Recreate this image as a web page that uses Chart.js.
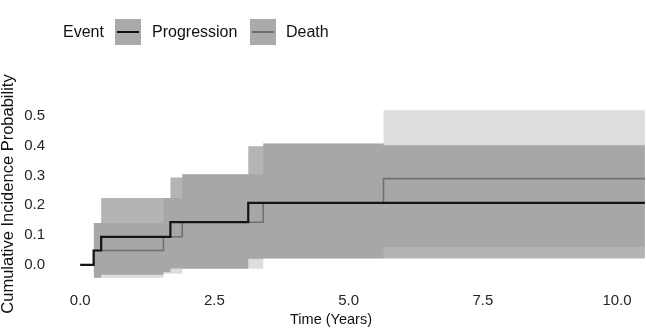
<!DOCTYPE html>
<html>
<head>
<meta charset="utf-8">
<script src="https://cdn.jsdelivr.net/npm/chart.js@4"></script>
<style>
  html, body { margin: 0; padding: 0; background: #fff; overflow: hidden; }
  #wrap { position: relative; width: 646px; height: 332px; font-family: "Liberation Sans", Arial, sans-serif; color: #111; }
  #legend span, #legend div { position: absolute; }
  .lbl { font-size: 16px; top: 23px; line-height: 18px; }
  .key { top: 19px; width: 26px; height: 26px; background: #aaaaaa; }
  .key i { position: absolute; left: 2px; right: 2px; top: 12px; display: block; }
</style>
</head>
<body>
<div id="wrap">
  <canvas id="kmChart"></canvas>
  <div id="legend">
    <span class="lbl" style="left:63px">Event</span>
    <div class="key" style="left:115px"><i style="height:2px;background:#111"></i></div>
    <span class="lbl" style="left:152px">Progression</span>
    <div class="key" style="left:250px"><i style="height:2px;background:#6f6f6f"></i></div>
    <span class="lbl" style="left:286px">Death</span>
  </div>
</div>
<script>
// tick labels
const xTicks = [0, 2.5, 5, 7.5, 10];
const yTicks = [0, 0.1, 0.2, 0.3, 0.4, 0.5];

// cumulative incidence estimates (step functions)
const progTime = [0, 0.25, 0.39, 1.68, 3.13, 10.52];
const progEst = [0, 0.048, 0.094, 0.143, 0.208, 0.208];
const deathTime = [0, 0.25, 1.55, 1.90, 3.41, 5.65, 10.52];
const deathEst = [0, 0.048, 0.094, 0.143, 0.208, 0.289, 0.289];

// confidence bands
const progBandTime = [0.25, 0.39, 1.55, 1.68, 1.90, 3.13, 3.41, 5.65, 10.52];
const progUpper = [0.140, 0.224, 0.224, 0.293, 0.304, 0.398, 0.407, 0.401, 0.401];
const progLower = [-0.043, -0.033, -0.025, -0.012, -0.013, 0.020, 0.021, 0.021, 0.021];
const deathBandTime = [0.25, 1.55, 1.90, 3.41, 5.65, 10.52];
const deathUpper = [0.140, 0.224, 0.304, 0.407, 0.518, 0.518];
const deathLower = [-0.043, -0.030, -0.013, 0.021, 0.060, 0.060];

const FONT = '"Liberation Sans", Arial, sans-serif';

function pts(xs, ys) {
    return xs.map((x, i) => ({ x: x, y: ys[i] }));
}

function band(data, color, fill) {
    return {
        data: data,
        stepped: true,
        borderWidth: 0,
        pointRadius: 0,
        backgroundColor: color,
        fill: fill
    };
}

// x axis title sits left of the panel centre in the reference
const xTitlePlugin = {
    id: 'xTitle',
    afterDraw(chart) {
        const ctx = chart.ctx;
        ctx.save();
        ctx.font = '14.5px ' + FONT;
        ctx.fillStyle = '#111';
        ctx.textAlign = 'center';
        ctx.textBaseline = 'middle';
        ctx.fillText('Time (Years)', 331, 320);
        ctx.restore();
    }
};

const ctx = document.getElementById('kmChart').getContext('2d');
document.getElementById('kmChart').parentNode.style.height = '332px';

new Chart(ctx, {
    type: 'line',
    data: {
        datasets: [
            {
                label: 'Progression',
                data: pts(progTime, progEst),
                stepped: true,
                borderColor: '#141414',
                borderWidth: 2.2,
                pointRadius: 0,
                fill: false
            },
            {
                label: 'Death',
                data: pts(deathTime, deathEst),
                stepped: true,
                borderColor: '#707070',
                borderWidth: 1.6,
                pointRadius: 0,
                fill: false
            },
            band(pts(progBandTime, progUpper), 'rgba(130,130,130,0.6)', '+1'),
            band(pts(progBandTime, progLower), 'transparent', false),
            band(pts(deathBandTime, deathUpper), 'rgba(130,130,130,0.27)', '+1'),
            band(pts(deathBandTime, deathLower), 'transparent', false)
        ]
    },
    options: {
        responsive: true,
        maintainAspectRatio: false,
        animation: false,
        layout: { padding: { top: 102, left: 0, right: 0, bottom: 0 } },
        plugins: {
            legend: { display: false },
            tooltip: { enabled: false }
        },
        scales: {
            x: {
                type: 'linear',
                min: -0.526,
                max: 10.54,
                afterFit: s => { s.height = 46; },
                afterBuildTicks: s => { s.ticks = xTicks.map(v => ({ value: v })); },
                grid: { display: false, drawTicks: false },
                border: { display: false },
                ticks: {
                    font: { family: FONT, size: 15 },
                    color: '#262626',
                    padding: 6,
                    maxRotation: 0,
                    autoSkip: false,
                    callback: v => v.toFixed(1)
                }
            },
            y: {
                type: 'linear',
                min: -0.071,
                max: 0.546,
                afterFit: s => { s.width = 52; },
                afterBuildTicks: s => { s.ticks = yTicks.map(v => ({ value: v })); },
                grid: { display: false, drawTicks: false },
                border: { display: false },
                ticks: {
                    font: { family: FONT, size: 15 },
                    color: '#262626',
                    padding: 7,
                    callback: v => v.toFixed(1)
                },
                title: {
                    display: true,
                    text: 'Cumulative Incidence Probability',
                    font: { family: FONT, size: 16.5, lineHeight: 1 },
                    color: '#111',
                    padding: 0
                }
            }
        }
    },
    plugins: [xTitlePlugin]
});
</script>
</body>
</html>
